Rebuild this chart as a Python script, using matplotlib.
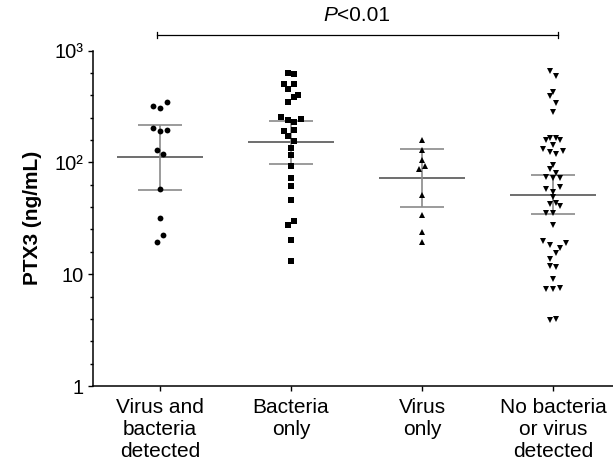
import matplotlib
matplotlib.use('Agg')
import matplotlib.pyplot as plt
import numpy as np
from matplotlib.ticker import FixedLocator, NullFormatter

plt.rcParams['font.family'] = ['Liberation Sans', 'DejaVu Sans']

categories = ["Virus and\nbacteria\ndetected", "Bacteria\nonly", "Virus\nonly",
              "No bacteria\nor virus\ndetected"]

# PTX3 values (ng/mL) per group
vb_values = [317, 308, 344, 205, 192, 196, 130, 119, 58.4, 31.9, 22.2, 19.3]
vb_jitter = [-2, 0, 2, -2, 0, 2, -1, 1, 0, 0, 1, -1]

b_values = [625, 621, 498, 498, 449, 387, 403, 344, 254, 241, 229, 242, 196, 189,
            171, 156, 134, 116, 93.3, 71.8, 61.7, 46.5, 30.2, 27.8, 20.3, 13.2]
b_jitter = [-1, 1, -2, 1, -1, 1, 2, -1, -3, -1, 1, 3, 1, -2,
            -1, 1, 0, 0, 0, 0, 0, 0, 1, -1, 0, 0]

v_values = [160, 128, 104, 87, 92, 51.3, 34, 23.8, 19.3]
v_jitter = [0, 0, 0, -1, 1, 0, 0, 0, 0]

n_values = [661, 587, 429, 389, 340, 280, 159, 164, 164, 157, 142, 132, 123, 119, 127,
            94.6, 87.6, 80.2, 73.9, 72.3, 71.8, 58, 60.5, 54.6, 49.5, 42.6, 43.2, 41.1,
            35.6, 35.6, 27.6, 19.7, 18.4, 17.2, 19.1, 15.6, 13.8, 11.9, 11.6, 9.0,
            7.43, 7.34, 7.59, 3.90, 3.96]
n_jitter = [-1, 1, 0, -1, 1, 0, -2, -1, 1, 2, 0, -3, -1, 1, 3,
            0, -1, 1, -2, 0, 2, -2, 2, 0, 0, -1, 1, 2,
            -2, 0, 0, -3, -1, 2, 4, 1, -1, -1, 1, 0,
            -2, 0, 2, -1, 1]

group_means = [111, 153, 72, 51]
ci_low = [56.9, 97.7, 39.8, 34.2]
ci_high = [217, 237, 132, 77.4]

y_ticks = [1, 10, 100, 1000]
y_ticklabels = ["1", "10", "10\u00b2", "10\u00b3"]

p_label_italic = "P"
p_label_rest = "<0.01"

groups = [vb_values, b_values, v_values, n_values]
jitters = [vb_jitter, b_jitter, v_jitter, n_jitter]
markers = ['o', 's', '^', 'v']
msizes = [4.2, 4.3, 4.6, 4.8]

fig = plt.figure(figsize=(6.13, 4.72), dpi=100)
ax = fig.add_axes([93 / 613, (472 - 386) / 472, (613 - 93) / 613, (386 - 50.6) / 472])

ax.set_yscale('log')
ax.set_ylim(1, 1000)
ax.set_xlim(-0.511, 3.458)

step = 3.35 / 131.0
mean_col = '#555555'
ci_col = '#8a8a8a'
for i in range(4):
    ax.hlines(group_means[i], i - 0.33, i + 0.33, color=mean_col, lw=1.2, zorder=2)
    ax.vlines(i, ci_low[i], ci_high[i], color=ci_col, lw=1.2, zorder=2)
    ax.hlines([ci_low[i], ci_high[i]], i - 0.165, i + 0.165, color=ci_col, lw=1.2, zorder=2)
    xs = i + np.array(jitters[i]) * step
    ax.plot(xs, groups[i], linestyle='none', marker=markers[i], ms=msizes[i],
            color='black', mec='black', mew=0, zorder=3)

# ticks
ax.yaxis.set_major_locator(FixedLocator(y_ticks))
ax.set_yticklabels(y_ticklabels, fontsize=14.5)
minor = [10 ** (k + j / 5) for k in range(3) for j in range(1, 5)]
ax.yaxis.set_minor_locator(FixedLocator(minor))
ax.yaxis.set_minor_formatter(NullFormatter())
ax.tick_params(axis='y', which='major', length=3.5, width=1.0, pad=3.5, direction='out')
ax.tick_params(axis='y', which='minor', length=2.5, width=1.0, direction='out')

ax.set_xticks(range(4))
ax.set_xticklabels(categories, fontsize=15, linespacing=1.2)
ax.tick_params(axis='x', which='major', length=3.5, width=1.0, pad=5, direction='out')
ax.tick_params(axis='x', which='minor', length=0)

for s in ['top', 'right']:
    ax.spines[s].set_visible(False)
for s in ['left', 'bottom']:
    ax.spines[s].set_linewidth(1.1)

ax.set_ylabel("PTX3 (ng/mL)", fontsize=15, fontweight='bold', labelpad=9)

# significance bracket
yb = 10 ** ((386 - 35) / 111.7)
ax.plot([-0.02, 3.04], [yb, yb], color='black', lw=0.9, clip_on=False)
tick_h = 1.06
ax.plot([-0.02, -0.02], [yb / tick_h, yb * tick_h], color='black', lw=0.9, clip_on=False)
ax.plot([3.04, 3.04], [yb / tick_h, yb * tick_h], color='black', lw=0.9, clip_on=False)
yt = 10 ** ((386 - 16) / 111.7)
t1 = ax.text(1.5, yt, p_label_italic, fontsize=15, style='italic', ha='right', va='center',
             clip_on=False)
t2 = ax.text(1.5, yt, p_label_rest, fontsize=15, ha='left', va='center', clip_on=False)
fig.canvas.draw()
bb1 = t1.get_window_extent()
bb2 = t2.get_window_extent()
total = bb1.width + bb2.width
cx = ax.transData.transform((1.5, yt))[0]
inv = ax.transData.inverted()
x_split = inv.transform((cx - total / 2 + bb1.width, 0))[0]
t1.set_x(x_split)
t2.set_x(x_split)

fig.savefig('out.png', dpi=100)
